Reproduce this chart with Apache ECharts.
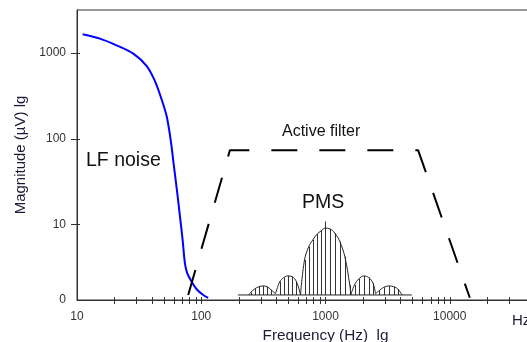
<!DOCTYPE html>
<html>
<head>
<meta charset="utf-8">
<script src="https://cdn.jsdelivr.net/npm/echarts@6/dist/echarts.min.js"></script>
<style>
  html, body { margin: 0; padding: 0; background: #fff; }
  #chart { width: 527px; height: 342px; }
</style>
</head>
<body>
<div id="chart"></div>
<script>
// LF noise (blue curve)
const lfFreq = [11.1, 15.3, 20.8, 28.4, 36.4, 42.4, 48, 52.7, 56.7, 60.3, 64.1, 67.4, 70.8, 73.9, 77.1, 83.7, 91.8, 103.8, 113.7];
const lfMag = [1645, 1466, 1224, 979, 701, 468, 286, 182, 97, 47.5, 23.2, 12.4, 6.6, 3.5, 2.69, 2.14, 1.75, 1.5, 1.39];

// active filter (dashed trapezoid)
const filterFreq = [78.5, 170, 5570, 14500];
const filterMag = [1.5, 73, 73, 1.39];

// PMS lobes, end points sit on the base line, inner points carry a stem
const pmsL2Freq = [241.5, 249.2, 268.5, 290.6, 314.8, 339.1, 365, 396];
const pmsL2Mag = [1.5, 1.6, 1.76, 1.87, 1.91, 1.87, 1.72, 1.55];
const pmsL1Freq = [396, 428.9, 461.9, 497.4, 538.7, 584.1, 629.2];
const pmsL1Mag = [1.55, 2.14, 2.39, 2.5, 2.45, 2.14, 1.5];
const pmsMainFreq = [629.2, 677.7, 733.8, 790.5, 855.8, 921.7, 1000, 1083, 1188, 1303, 1430, 1568, 1598];
const pmsMainMag = [1.5, 3.84, 5.5, 6.59, 7.68, 8.39, 9.03, 8.86, 7.89, 6.29, 4.2, 1.96, 1.5];
const pmsR1Freq = [1598, 1712, 1853, 2033, 2230, 2415, 2525];
const pmsR1Mag = [1.5, 1.96, 2.31, 2.5, 2.39, 2.05, 1.55];
const pmsR2Freq = [2525, 2685, 2944, 3230, 3543, 3816, 4134];
const pmsR2Mag = [1.55, 1.67, 1.84, 1.91, 1.87, 1.76, 1.5];
const pmsBaseFreq = [197, 4947];
const pmsBase = 1.5;
const pmsPeakStem = [1000, 10.8];

// axes
const xMin = 10, xMax = 100000;
const yMin = 1.31, yMax = 3162;
const xTicks = [20, 30, 40, 50, 60, 70, 80, 90, 100, 200, 300, 400, 500, 600, 700, 800, 900, 1000,
  2000, 3000, 4000, 5000, 6000, 7000, 8000, 9000, 10000, 20000, 30000];
const yTicks = [10, 100, 1000];

const pts = (f, m) => f.map((v, i) => [v, m[i]]);
const lobes = [[pmsL2Freq, pmsL2Mag], [pmsL1Freq, pmsL1Mag], [pmsMainFreq, pmsMainMag],
  [pmsR1Freq, pmsR1Mag], [pmsR2Freq, pmsR2Mag]];

let stems = [];
lobes.forEach(([f, m]) => {
  for (let i = 1; i < f.length - 1; i++) stems.push([f[i], m[i]]);
});
stems = stems.map(s => (s[0] === pmsPeakStem[0] ? pmsPeakStem.slice() : s));

const axisColor = '#333';
const nameColor = '#1c1c38';
const font = 'Liberation Sans, Arial, sans-serif';
const crisp = v => Math.round(v) + 0.5;

const chart = echarts.init(document.getElementById('chart'));

const lobeSeries = lobes.map(([f, m]) => ({
  type: 'line',
  data: pts(f, m),
  smooth: 0.4,
  showSymbol: false,
  lineStyle: {color: '#222', width: 1},
  z: 3
}));

chart.setOption({
  animation: false,
  grid: {left: 77, right: -47, top: 10, bottom: 42, show: true, borderColor: axisColor, borderWidth: 1,
    outerBoundsMode: 'none', containLabel: false},
  xAxis: {
    type: 'log', min: xMin, max: xMax,
    axisLine: {lineStyle: {color: axisColor}},
    axisTick: {show: false},
    splitLine: {show: false},
    axisLabel: {fontSize: 12, color: axisColor, margin: 11, fontFamily: font,
      formatter: v => (v > 50000 ? '' : String(Math.round(v)))},
    name: 'Frequency (Hz)  lg',
    nameLocation: 'middle',
    nameGap: 25,
    nameTextStyle: {fontSize: 15.3, color: nameColor, fontFamily: font}
  },
  yAxis: {
    type: 'log', min: yMin, max: yMax,
    axisLine: {lineStyle: {color: axisColor}},
    axisTick: {show: false},
    splitLine: {show: false},
    axisLabel: {fontSize: 12, color: axisColor, margin: 11, fontFamily: font,
      formatter: v => (v < 2 ? '0' : v > 2000 ? '' : String(Math.round(v)))},
    name: 'Magnitude (µV) lg',
    nameLocation: 'middle',
    nameGap: 46,
    nameTextStyle: {fontSize: 15, color: nameColor, fontFamily: font}
  },
  graphic: [
    {type: 'text', left: 86, top: 151, style: {text: 'LF noise', fontSize: 19.5, fontFamily: font, fill: '#111'}},
    {type: 'text', left: 282, top: 124, style: {text: 'Active filter', fontSize: 16, fontFamily: font, fill: '#111'}},
    {type: 'text', left: 302, top: 193, style: {text: 'PMS', fontSize: 19.5, fontFamily: font, fill: '#111'}},
    {type: 'text', left: 512, top: 313, style: {text: 'Hz', fontSize: 15, fontFamily: font, fill: nameColor}}
  ],
  series: [
    {
      type: 'line', data: pts(lfFreq, lfMag), smooth: 0.3, showSymbol: false,
      lineStyle: {color: '#0000ff', width: 2}, z: 4
    },
    {
      type: 'line', data: pts(filterFreq, filterMag), showSymbol: false,
      lineStyle: {color: '#000', width: 2, type: [26, 22]}, z: 4
    },
    {
      type: 'line', data: pmsBaseFreq.map(f => [f, pmsBase]), showSymbol: false,
      lineStyle: {color: '#222', width: 1}, z: 3
    },
    ...lobeSeries,
    {
      type: 'custom', clip: false, silent: true, z: 3,
      data: stems,
      renderItem: (params, api) => {
        const top = api.coord([api.value(0), api.value(1)]);
        const bot = api.coord([api.value(0), pmsBase]);
        const x = crisp(top[0]);
        return {type: 'line', shape: {x1: x, y1: bot[1], x2: x, y2: top[1]},
          style: {stroke: '#333', lineWidth: 1}};
      }
    },
    {
      type: 'custom', clip: false, silent: true, z: 5,
      data: xTicks.map(v => [v, yMin]),
      renderItem: (params, api) => {
        const p = api.coord([api.value(0), api.value(1)]);
        const x = crisp(p[0]);
        return {type: 'line', shape: {x1: x, y1: p[1] - 3, x2: x, y2: p[1] + 4},
          style: {stroke: axisColor, lineWidth: 1}};
      }
    },
    {
      type: 'custom', clip: false, silent: true, z: 5,
      data: yTicks.map(v => [xMin, v]),
      renderItem: (params, api) => {
        const p = api.coord([api.value(0), api.value(1)]);
        const y = crisp(p[1]);
        return {type: 'line', shape: {x1: p[0] - 6, y1: y, x2: p[0] + 3, y2: y},
          style: {stroke: axisColor, lineWidth: 1}};
      }
    }
  ]
});
</script>
</body>
</html>
